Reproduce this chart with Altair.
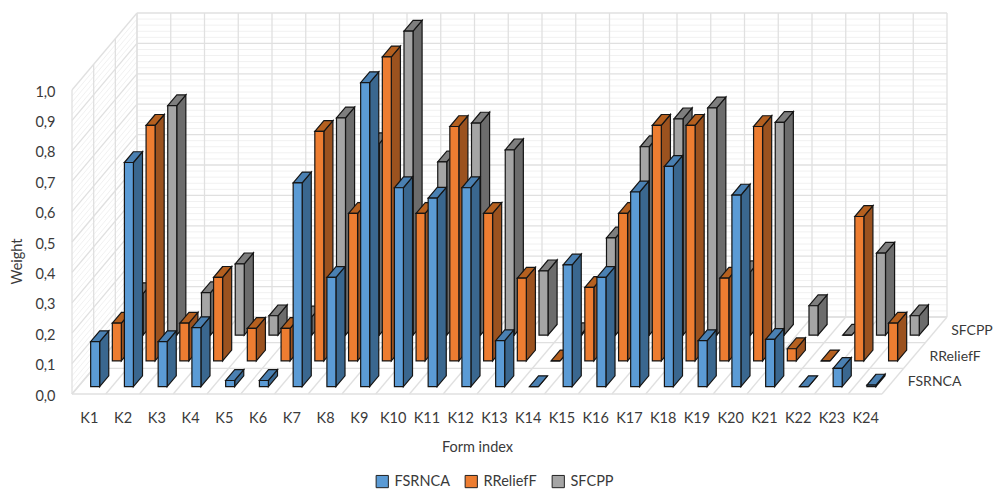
import altair as alt
import pandas as pd

categories = [f"K{i}" for i in range(1, 25)]
series = ["FSRNCA", "RReliefF", "SFCPP"]
FSRNCA = [.148, .737, .148, .194, .02, .02, .67, .359, 1.0, .654, .62, .654, .151, 0, .40, .359, .64, .724, .151, .63, .155, 0, .06, .005]
RRELIEFF = [.124, .775, .124, .275, .107, .107, .755, .485, 1.0, .485, .771, .485, .272, 0, .242, .485, .775, .775, .272, .771, .04, 0, .475, .124]
SFCPP = [.137, .755, .14, .235, .064, .06, .715, .63, 1.0, .57, .698, .61, .212, .005, .32, .62, .712, .748, .209, .70, .097, 0, .27, .064]
values = [FSRNCA, RRELIEFF, SFCPP]
front = ["#5B9BD5", "#ED7D31", "#A5A5A5"]
side = ["#3A678F", "#9B521F", "#6C6C6C"]
top = ["#4A80B2", "#B5601F", "#7E7E7E"]

TXT = "#3A3A3A"
FONT = "Lato"
CAT = 33.75          # px per category
VAL = 304.0          # px per 1.0
W, H = 875, 382
DX = 65 / 3 / CAT    # depth shift per series, x units
DY = 77 / 3 / VAL    # depth shift per series, y units
BAR = 9 / CAT
DEPTH = 0.42
FRONT = 0.29
EDGE = "#151515"

xs = alt.X("x:Q", scale=alt.Scale(domain=[0, W / CAT], nice=False, zero=False),
           axis=alt.Axis(values=[i + 0.5 for i in range(24)], labelExpr="'K' + (datum.value + 0.5)",
                         domain=False, ticks=False, grid=False, labelPadding=17, labelFont=FONT,
                         labelFontSize=14.5, labelColor=TXT, title="Form index", titleFont=FONT,
                         titleFontSize=14.5, titleFontWeight="normal", titleColor=TXT,
                         titleX=405, titleY=46, titleAnchor="middle", labelAngle=0))
ys = alt.Y("y:Q", scale=alt.Scale(domain=[0, H / VAL], nice=False, zero=False),
           axis=alt.Axis(values=[i / 10 for i in range(11)],
                         labelExpr="replace(format(datum.value, '.1f'), '.', ',')",
                         domain=False, ticks=False, grid=False, labelPadding=17, labelOffset=2, labelFont=FONT,
                         labelFontSize=14.5, labelColor=TXT, title="Weight", titleFont=FONT,
                         titleFontSize=14.5, titleFontWeight="normal", titleColor=TXT,
                         titleX=-48, titleY=249, titleAnchor="middle"))

# grid
minor, major = [], []
n = 0
def seg(store, x0, y0, x1, y1):
    global n
    n += 1
    store += [{"x": x0, "y": y0, "g": n}, {"x": x1, "y": y1, "g": n}]

for k in range(0, 51):
    v = k / 50
    store = major if k % 5 == 0 else minor
    seg(store, 0, v, 3 * DX, v + 3 * DY)                 # left wall
    seg(store, 3 * DX, v + 3 * DY, 24 + 3 * DX, v + 3 * DY)  # back wall
for i in range(25):
    seg(major, i, 0, i + 3 * DX, 3 * DY)                 # floor, across
    seg(major, i + 3 * DX, 3 * DY, i + 3 * DX, 1 + 3 * DY)   # back wall, up
for d in range(4):
    seg(major, d * DX, d * DY, 24 + d * DX, d * DY)      # floor, along
    seg(major, d * DX, d * DY, d * DX, 1 + d * DY)       # left wall, up

grid_minor = alt.Chart(pd.DataFrame(minor)).mark_line(stroke="#F1F1F1", strokeWidth=1).encode(x=xs, y=ys, detail="g:N")
grid_major = alt.Chart(pd.DataFrame(major)).mark_line(stroke="#E0E0E0", strokeWidth=1.3).encode(x=xs, y=ys, detail="g:N")

layers = [grid_minor, grid_major]
color = alt.Color("series:N", scale=alt.Scale(domain=series, range=front),
                  legend=alt.Legend(orient="none", legendX=303, legendY=462, direction="horizontal",
                                    title=None, symbolType="square", symbolSize=150, symbolStrokeColor="#222222",
                                    symbolStrokeWidth=1, labelFont=FONT, labelFontSize=14.5, labelColor=TXT,
                                    columnPadding=13, labelOffset=5))
for d in (2, 1, 0):
    fr, si, to = [], [], []
    for i, v in enumerate(values[d]):
        xl = i + (1 - BAR) / 2 + (d + FRONT) * DX
        xr = xl + BAR
        yb = (d + FRONT) * DY
        ox, oy = DEPTH * DX, DEPTH * DY
        fr.append({"x": xl, "x2": xr, "y": yb, "y2": yb + v, "series": series[d]})
        si += [{"x": xr, "y": yb, "y2": yb + v, "b": i},
               {"x": xr + ox, "y": yb + oy, "y2": yb + oy + v, "b": i}]
        to += [{"x": xl, "x2": xr, "y": yb + v, "b": i},
               {"x": xl + ox, "x2": xr + ox, "y": yb + v + oy, "b": i}]
    layers.append(alt.Chart(pd.DataFrame(si)).mark_area(fill=side[d], stroke=EDGE, strokeWidth=1.2, orient="vertical")
                  .encode(x=xs, y=ys, y2="y2:Q", detail="b:N"))
    layers.append(alt.Chart(pd.DataFrame(to)).mark_area(fill=top[d], stroke=EDGE, strokeWidth=1.2, orient="horizontal")
                  .encode(x=xs, x2="x2:Q", y=ys, detail="b:N"))
    layers.append(alt.Chart(pd.DataFrame(fr)).mark_rect(stroke=EDGE, strokeWidth=1.2)
                  .encode(x=xs, x2="x2:Q", y=ys, y2="y2:Q", color=color))

labels = pd.DataFrame([{"x": 24 + (d + .5) * DX + 15 / CAT, "y": (d + .5) * DY, "t": series[d]} for d in range(3)])
layers.append(alt.Chart(labels).mark_text(align="left", baseline="middle", font=FONT, fontSize=14, color=TXT, dy=1)
              .encode(x=xs, y=ys, text="t:N"))

chart = alt.layer(*layers).properties(
    width=W, height=H,
    autosize=alt.AutoSizeParams(type="none"),
    padding={"left": 64, "top": 4, "right": 46, "bottom": 97},
).configure_view(stroke=None)
chart.save("out.html", embed_options={"renderer": "svg", "actions": False})
